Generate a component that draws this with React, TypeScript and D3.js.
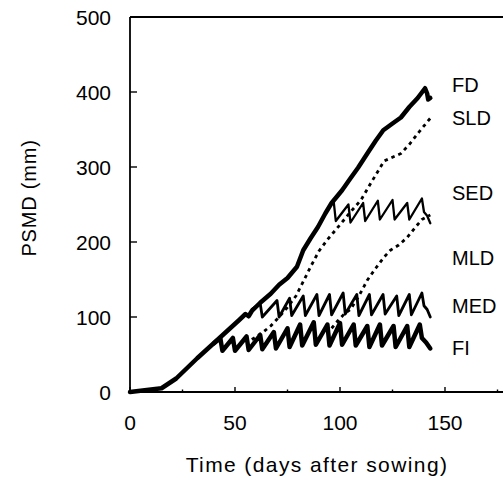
import React from "react";
import * as d3 from "d3";

type Pt = [number, number];

// days after sowing, PSMD (mm)
const fd: Pt[] = [
  [0, 0], [15, 5], [22, 18], [32, 45], [43, 73], [52, 96], [55, 104], [56.5, 101],
  [58, 108], [62, 119], [67, 131], [71, 143], [75, 152], [79.5, 167], [82.5, 189],
  [86, 205], [89.5, 220], [93, 238], [96, 252], [101, 269], [105, 285], [108.6, 299],
  [113, 318], [117, 335], [120.6, 349], [125, 358], [129, 366], [133, 380], [137, 392],
  [140.5, 405], [141.5, 398], [142, 390], [143, 392],
];

const sld: Pt[] = [
  [58, 70], [63, 79], [67, 88], [71, 100], [75, 113], [79, 128], [83, 150], [86, 167],
  [90, 188], [94, 203], [97, 213], [100, 223], [105, 240], [110, 256], [115, 280],
  [121, 308], [125, 313], [129, 318], [133, 330], [138, 348], [143, 365],
];

const sed: Pt[] = [
  [96, 252], [97, 254], [98, 228], [104, 250], [105, 226], [111, 252], [112, 228],
  [118, 255], [119, 230], [125, 256], [126, 230], [132, 252], [133, 230], [139, 258],
  [140, 240], [141.5, 235], [143, 225],
];

const mld: Pt[] = [
  [96, 85], [99, 95], [102, 104], [105, 110], [109, 128], [113, 149], [117, 165],
  [121, 180], [124, 189], [128, 196], [132, 206], [136, 220], [139, 230], [143, 236],
];

const med: Pt[] = [
  [58, 110], [62, 118], [63, 100], [70, 122], [71, 100], [76, 125], [77, 102],
  [82.5, 128], [83.5, 102], [89, 130], [90, 102], [95, 130], [96, 103], [101.5, 132],
  [102.5, 104], [108, 130], [109, 102], [114, 130], [115, 103], [120.5, 130],
  [121.5, 104], [127, 128], [128, 102], [133, 130], [134, 103], [139, 132],
  [140, 115], [141.5, 110], [143, 100],
];

const fi: Pt[] = [
  [40, 65], [43, 72], [44, 55], [49, 72], [50, 55], [55.5, 74], [56.5, 56], [62, 76],
  [63, 57], [68.5, 80], [69.5, 58], [75, 85], [76, 60], [81, 90], [82, 62], [87.5, 93],
  [88.5, 63], [94, 90], [95, 62], [100, 92], [101, 63], [106.5, 90], [107.5, 62],
  [113, 88], [114, 60], [119, 90], [120, 62], [125.5, 88], [126.5, 60], [132, 88],
  [133, 60], [138, 90], [139, 72], [141, 66], [143, 58],
];

const seriesLabels = ["FD", "SLD", "SED", "MLD", "MED", "FI"];
const labelValues = [409, 366, 266, 179, 115, 59];
const xTicks = [0, 50, 100, 150];
const xMinor = [25, 75, 125, 175];
const yTicks = [0, 100, 200, 300, 400, 500];

const font = "'Liberation Sans', Arial, Helvetica, sans-serif";

export default function App() {
  const x = d3.scaleLinear().domain([0, 180]).range([130, 508]);
  const y = d3.scaleLinear().domain([0, 500]).range([392, 17]);
  const line = d3
    .line<Pt>()
    .x((d) => x(d[0]))
    .y((d) => y(d[1]));

  const series = [
    { data: fd, w: 4.5, dash: undefined },
    { data: sld, w: 2.8, dash: "3.5 4" },
    { data: sed, w: 2.3, dash: undefined },
    { data: mld, w: 2.8, dash: "3.5 4" },
    { data: med, w: 2.8, dash: undefined },
    { data: fi, w: 4.5, dash: undefined },
  ];

  return (
    <svg
      width={503}
      height={480}
      style={{ position: "absolute", left: 0, top: 0, background: "#fff" }}
    >
      {/* frame */}
      <g stroke="#000" strokeWidth={1.8} fill="none">
        <line x1={x(0)} x2={x(180)} y1={y(500)} y2={y(500)} />
        <line x1={x(0)} x2={x(0)} y1={y(500)} y2={y(0)} />
        <line x1={x(0)} x2={x(180)} y1={y(0)} y2={y(0)} />
        <line x1={x(180)} x2={x(180)} y1={y(500)} y2={y(0)} />
      </g>

      {/* ticks */}
      <g stroke="#000" strokeWidth={1.4}>
        {xTicks.map((t) => (
          <line key={"xt" + t} x1={x(t)} x2={x(t)} y1={y(0)} y2={y(0) - 5} />
        ))}
        {xMinor.map((t) => (
          <line key={"xm" + t} x1={x(t)} x2={x(t)} y1={y(0)} y2={y(0) - 2.5} />
        ))}
        {yTicks.map((t) => (
          <line key={"yt" + t} x1={x(0)} x2={x(0) + 7} y1={y(t)} y2={y(t)} />
        ))}
      </g>

      <g fontFamily={font} fontSize={21} fill="#000">
        {xTicks.map((t) => (
          <text key={"xl" + t} x={x(t)} y={430} textAnchor="middle">
            {t}
          </text>
        ))}
        {yTicks.map((t) => (
          <text key={"yl" + t} x={111} y={y(t) + 7.5} textAnchor="end">
            {t}
          </text>
        ))}
      </g>
      <g fontFamily={font} fontSize={20} fill="#000">
        {seriesLabels.map((s, i) => (
          <text key={s} x={452} y={y(labelValues[i]) + 7}>
            {s}
          </text>
        ))}
      </g>

      <text
        fontFamily={font}
        fontSize={21}
        letterSpacing={1.4}
        x={317}
        y={472}
        textAnchor="middle"
      >
        Time (days after sowing)
      </text>
      <text
        fontFamily={font}
        fontSize={20}
        letterSpacing={0.8}
        transform="translate(36,198) rotate(-90)"
        textAnchor="middle"
      >
        PSMD (mm)
      </text>

      {series.map((s, i) => (
        <path
          key={i}
          d={line(s.data) ?? ""}
          fill="none"
          stroke="#000"
          strokeWidth={s.w}
          strokeDasharray={s.dash}
          strokeLinejoin="round"
          strokeLinecap={s.dash ? "butt" : "round"}
        />
      ))}
    </svg>
  );
}
